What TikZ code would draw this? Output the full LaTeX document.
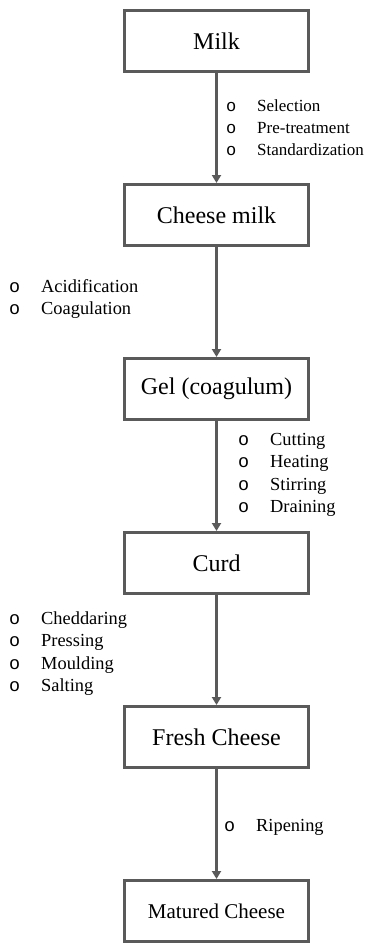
\documentclass[tikz,border=0pt]{standalone}
\usepackage{fontspec}
\setmainfont{Liberation Serif}
\newfontfamily\bulfont{Liberation Mono}
\usetikzlibrary{positioning, arrows.meta, calc}
\definecolor{linegray}{HTML}{5A5A5A}
\newcommand{\itm}{\llap{{\bulfont o}\hspace{21pt}}}
\tikzset{
  arr/.style={-{Triangle[length=8pt,width=9pt]}, line width=3pt, draw=linegray},
  box/.style={draw=linegray, line width=3pt, minimum width=184pt, minimum height=61pt,
    inner sep=2pt, font=\fontsize{24}{28}\selectfont},
  lab/.style={align=left, inner sep=0pt, anchor=base west, font=\fontsize{18.4}{22.5}\selectfont}
}
\begin{document}
\begin{tikzpicture}[x=1pt, y=-1pt, node distance=110pt]
\useasboundingbox (0,0) rectangle (374,945);
% stages of the process
\node[box] (milk) at (216.5,41) {Milk};
\node[box, below=of milk] (chm) {Cheese milk};
\node[box, below=of chm] (gel) {Gel (coagulum)};
\node[box, below=of gel] (curd) {Curd};
\node[box, below=of curd] (fresh) {Fresh Cheese};
\node[box, below=of fresh, font=\fontsize{21}{25}\selectfont] (mat) {Matured Cheese};
\draw[arr] (milk) -- (chm);
\draw[arr] (chm) -- (gel);
\draw[arr] (gel) -- (curd);
\draw[arr] (curd) -- (fresh);
\draw[arr] (fresh) -- (mat);
% operations beside the arrows (placed at the baseline of the last line)
\node[lab, font=\fontsize{17}{22}\selectfont] (ops1) at (257,155)
  {\itm Selection\\ \itm Pre-treatment\\ \itm Standardization};
\node[lab] (ops2) at (41,314.5)
  {\itm Acidification\\ \itm Coagulation};
\node[lab] (ops3) at (270,512.5)
  {\itm Cutting\\ \itm Heating\\ \itm Stirring\\ \itm Draining};
\node[lab] (ops4) at (41,691.5)
  {\itm Cheddaring\\ \itm Pressing\\ \itm Moulding\\ \itm Salting};
\node[lab] (ops5) at (256,831) {\itm Ripening};
\end{tikzpicture}
\end{document}
